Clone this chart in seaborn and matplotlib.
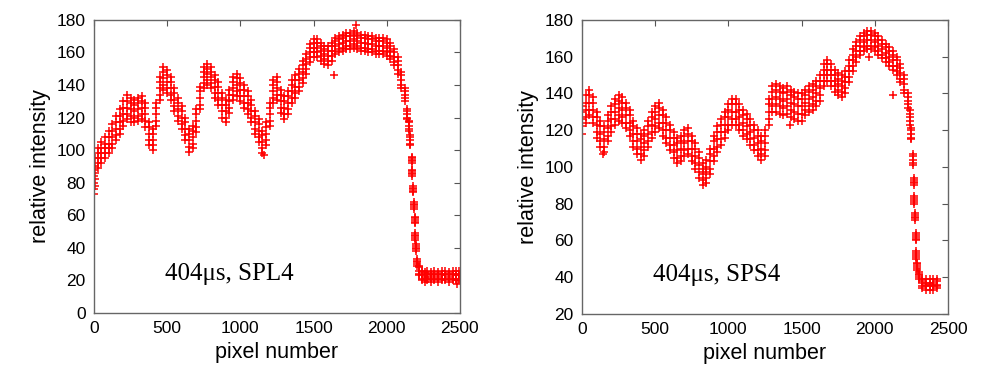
import pandas as pd
import seaborn as sns
import matplotlib.pyplot as plt

# SPL4 profile: pixel position and readings across the scatter band (bottom edge .. top edge)
x1 = [0, 10, 25, 50, 75, 100, 125, 150, 175, 200, 225, 250, 275, 300, 325, 350, 375, 400, 425, 450,
      475, 500, 525, 550, 575, 600, 625, 650, 675, 700, 725, 750, 775, 800, 825, 850, 875, 900, 925, 950,
      975, 1000, 1025, 1050, 1075, 1100, 1125, 1150, 1175, 1200, 1225, 1250, 1275, 1300, 1325, 1350, 1375, 1400, 1425, 1450,
      1475, 1500, 1525, 1550, 1575, 1600, 1625, 1650, 1675, 1700, 1725, 1750, 1775, 1800, 1825, 1850, 1875, 1900, 1925, 1950,
      1975, 2000, 2025, 2050, 2075, 2100, 2125, 2140, 2150, 2160, 2170, 2175, 2180, 2185, 2190, 2195, 2200, 2210, 2220, 2240,
      2260, 2275, 2300, 2325, 2350, 2375, 2400, 2425, 2450, 2475, 2495]
lo1 = [73, 78, 89, 92, 95, 98, 101, 106, 110, 115, 119, 117, 117, 118, 119, 114, 103, 100, 115, 131,
       137, 135, 131, 124, 118, 113, 106, 99, 101, 111, 125, 138, 140, 138, 132, 128, 120, 117, 123, 131,
       133, 130, 126, 122, 117, 110, 105, 98, 103, 115, 129, 131, 123, 119, 122, 129, 132, 136, 141, 147,
       154, 157, 157, 155, 153, 152, 155, 159, 160, 161, 162, 162, 163, 162, 161, 161, 160, 160, 159, 159,
       159, 158, 156, 152, 147, 138, 130, 119, 112, 103, 92, 84, 74, 64, 55, 45, 38, 29, 23, 20,
       19, 20, 19, 20, 19, 20, 20, 19, 20, 20, 20]
qlo1 = [76, 82, 92, 95, 98, 101, 104, 109, 113, 118, 122, 121, 120, 121, 122, 118, 106, 103, 118, 134,
        140, 138, 134, 127, 121, 116, 109, 102, 104, 114, 128, 141, 143, 141, 135, 131, 124, 120, 126, 134,
        136, 133, 129, 125, 120, 113, 108, 101, 106, 118, 132, 134, 126, 122, 125, 132, 135, 139, 144, 150,
        157, 160, 160, 158, 156, 155, 158, 161, 162, 163, 164, 164, 165, 164, 163, 163, 162, 162, 161, 161,
        161, 160, 158, 154, 149, 140, 132, 120, 113, 104, 93, 85, 75, 65, 56, 46, 39, 30, 24, 21,
        21, 21, 21, 21, 21, 21, 21, 21, 21, 21, 21]
mid1 = [80, 86, 95, 98, 101, 104, 108, 113, 117, 122, 126, 125, 124, 125, 126, 122, 110, 106, 122, 138,
        144, 142, 138, 131, 125, 120, 113, 106, 108, 118, 132, 145, 147, 145, 139, 135, 128, 124, 130, 138,
        140, 137, 133, 129, 124, 117, 112, 105, 110, 122, 136, 138, 130, 126, 129, 136, 139, 143, 148, 153,
        160, 163, 163, 161, 159, 158, 161, 164, 165, 166, 167, 167, 168, 167, 166, 166, 165, 165, 164, 164,
        164, 163, 161, 157, 152, 143, 134, 122, 115, 106, 94, 86, 76, 66, 57, 47, 40, 31, 26, 23,
        22, 23, 22, 23, 22, 23, 23, 22, 23, 23, 23]
qhi1 = [84, 90, 98, 101, 104, 108, 112, 117, 121, 126, 130, 129, 128, 129, 130, 126, 114, 110, 126, 142,
        148, 146, 142, 135, 129, 124, 117, 110, 112, 122, 136, 148, 150, 148, 143, 139, 132, 128, 134, 142,
        144, 141, 137, 133, 128, 121, 116, 109, 114, 126, 140, 142, 134, 130, 133, 140, 143, 147, 152, 156,
        163, 166, 166, 164, 162, 161, 164, 167, 168, 169, 170, 170, 171, 170, 169, 169, 168, 168, 167, 167,
        167, 166, 164, 160, 155, 146, 136, 124, 117, 108, 95, 87, 77, 67, 58, 48, 41, 32, 28, 25,
        24, 24, 24, 24, 24, 24, 24, 24, 24, 24, 24]
hi1 = [88, 95, 101, 105, 108, 112, 116, 121, 125, 130, 134, 132, 131, 132, 133, 129, 117, 113, 129, 145,
       151, 149, 145, 138, 132, 127, 120, 113, 115, 125, 139, 151, 153, 151, 146, 142, 135, 131, 137, 145,
       147, 144, 140, 136, 131, 124, 119, 112, 117, 129, 143, 145, 137, 133, 136, 143, 146, 150, 155, 159,
       165, 168, 168, 166, 164, 164, 166, 169, 170, 171, 172, 172, 173, 172, 171, 171, 170, 170, 169, 169,
       169, 168, 166, 162, 157, 148, 138, 125, 118, 109, 96, 88, 78, 68, 59, 49, 42, 33, 29, 26,
       25, 26, 25, 26, 25, 26, 26, 25, 26, 26, 26]
out1_x = [1160, 1641, 1790, 2478]
out1_y = [97, 146, 177, 18]

# SPS4 profile
x2 = [0, 25, 50, 75, 100, 125, 150, 175, 200, 225, 250, 275, 300, 325, 350, 375, 400, 425, 450, 475,
      500, 525, 550, 575, 600, 625, 650, 675, 700, 725, 750, 775, 800, 825, 850, 875, 900, 925, 950, 975,
      1000, 1025, 1050, 1075, 1100, 1125, 1150, 1175, 1200, 1225, 1250, 1275, 1300, 1325, 1350, 1375, 1400, 1425, 1450, 1475,
      1500, 1525, 1550, 1575, 1600, 1625, 1650, 1675, 1700, 1725, 1750, 1775, 1800, 1825, 1850, 1875, 1900, 1925, 1950, 1975,
      2000, 2025, 2050, 2075, 2100, 2125, 2150, 2175, 2200, 2225, 2240, 2250, 2260, 2265, 2270, 2275, 2280, 2285, 2290, 2300,
      2325, 2350, 2375, 2400, 2425]
lo2 = [118, 124, 128, 124, 116, 111, 108, 114, 119, 123, 125, 124, 121, 117, 111, 107, 104, 106, 111, 116,
       119, 121, 117, 113, 109, 105, 102, 103, 106, 107, 103, 99, 94, 90, 91, 96, 103, 108, 112, 116,
       120, 123, 123, 120, 117, 115, 112, 109, 106, 104, 106, 123, 130, 130, 129, 128, 129, 127, 126, 125,
       125, 128, 130, 131, 133, 136, 144, 147, 144, 141, 139, 138, 140, 146, 152, 157, 161, 163, 164, 164,
       163, 161, 159, 157, 155, 153, 150, 146, 140, 132, 123, 115, 101, 90, 80, 71, 60, 50, 44, 39,
       34, 33, 33, 33, 34]
qlo2 = [122, 127, 131, 127, 119, 114, 111, 117, 122, 126, 128, 127, 124, 120, 114, 110, 107, 109, 114, 119,
        122, 124, 120, 116, 112, 108, 105, 106, 109, 110, 106, 102, 97, 93, 94, 99, 106, 111, 115, 119,
        123, 126, 126, 123, 120, 118, 115, 112, 109, 107, 109, 126, 133, 134, 133, 132, 133, 131, 130, 129,
        129, 131, 133, 134, 136, 139, 147, 150, 147, 144, 142, 141, 143, 149, 155, 160, 163, 165, 166, 166,
        165, 163, 161, 159, 157, 155, 152, 148, 142, 134, 125, 116, 102, 91, 81, 72, 61, 51, 45, 40,
        35, 35, 35, 35, 35]
mid2 = [126, 131, 135, 131, 123, 118, 115, 121, 126, 130, 132, 131, 128, 124, 118, 114, 111, 113, 118, 123,
        126, 128, 124, 120, 116, 112, 109, 110, 113, 114, 110, 106, 101, 96, 97, 103, 110, 115, 119, 123,
        127, 130, 130, 127, 124, 122, 119, 116, 113, 110, 113, 130, 137, 138, 137, 136, 137, 135, 134, 133,
        133, 135, 137, 138, 140, 143, 150, 153, 150, 147, 145, 144, 146, 152, 158, 163, 166, 168, 169, 169,
        168, 166, 164, 162, 160, 158, 155, 151, 145, 136, 127, 118, 104, 92, 82, 73, 62, 52, 46, 41,
        37, 36, 36, 36, 36]
qhi2 = [130, 135, 139, 135, 127, 122, 119, 125, 130, 134, 136, 135, 132, 128, 122, 118, 115, 117, 122, 127,
        130, 132, 128, 124, 120, 116, 113, 114, 117, 118, 114, 110, 105, 99, 100, 107, 114, 119, 123, 127,
        131, 134, 134, 131, 128, 126, 123, 120, 117, 114, 117, 134, 141, 142, 141, 140, 141, 139, 138, 137,
        137, 139, 141, 142, 144, 147, 153, 156, 153, 150, 148, 147, 149, 155, 161, 166, 169, 171, 172, 172,
        171, 169, 167, 165, 163, 161, 158, 154, 148, 138, 129, 120, 106, 93, 83, 74, 63, 53, 47, 42,
        38, 37, 37, 37, 38]
hi2 = [133, 139, 142, 138, 130, 125, 122, 128, 133, 137, 139, 138, 135, 131, 125, 121, 118, 120, 125, 130,
       133, 135, 131, 127, 123, 119, 116, 117, 120, 121, 117, 113, 108, 102, 104, 110, 117, 122, 126, 130,
       134, 137, 137, 134, 131, 129, 126, 123, 120, 117, 120, 137, 144, 145, 144, 143, 144, 142, 141, 140,
       140, 142, 144, 145, 147, 150, 156, 158, 156, 153, 151, 150, 152, 158, 164, 168, 171, 173, 174, 174,
       173, 171, 169, 167, 165, 163, 160, 156, 150, 140, 131, 121, 107, 94, 84, 75, 64, 54, 48, 43,
       39, 39, 39, 39, 39]
out2_x = [146, 1421, 1958, 2122]
out2_y = [107, 123, 160, 139]

panels = [
    dict(x=x1, bands=[lo1, qlo1, mid1, qhi1, hi1], ox=out1_x, oy=out1_y, ylim=(0, 180),
         yticks=range(0, 181, 20), label='404μs, SPL4', ty=20),
    dict(x=x2, bands=[lo2, qlo2, mid2, qhi2, hi2], ox=out2_x, oy=out2_y, ylim=(20, 180),
         yticks=range(20, 181, 20), label='404μs, SPS4', ty=38),
]

sns.set_style('white')
plt.rcParams['font.family'] = ['Liberation Sans', 'DejaVu Sans']
plt.rcParams['text.color'] = 'black'
plt.rcParams['axes.labelcolor'] = 'black'
plt.rcParams['xtick.color'] = 'black'
plt.rcParams['ytick.color'] = 'black'

fig = plt.figure(figsize=(9.89, 3.82), dpi=100)
rects = [[0.095, 0.181, 0.370, 0.767], [0.5885, 0.178, 0.370, 0.770]]

for rect, p in zip(rects, panels):
    ax = fig.add_axes(rect)
    frames = [pd.DataFrame({'pixel': p['x'], 'intensity': b}) for b in p['bands']]
    frames.append(pd.DataFrame({'pixel': p['ox'], 'intensity': p['oy']}))
    df = pd.concat(frames, ignore_index=True)
    sns.scatterplot(data=df, x='pixel', y='intensity', marker='+', color='#ff0000',
                    edgecolor='#ff0000', s=32, linewidth=1.1, ax=ax)
    ax.set_xlim(0, 2500)
    ax.set_ylim(*p['ylim'])
    ax.set_xticks(range(0, 2501, 500))
    ax.set_yticks(list(p['yticks']))
    ax.tick_params(direction='in', length=4, width=0.8, top=True, right=True,
                   labelsize=12.5, pad=6)
    ax.tick_params(color='#555555')
    for s in ax.spines.values():
        s.set_color('#666666')
        s.set_linewidth(1.0)
    ax.set_xlabel('pixel number', fontsize=15.5, labelpad=4)
    ax.set_ylabel('relative intensity', fontsize=15.5, labelpad=4)
    ax.text(485, p['ty'], p['label'], fontsize=18, family=['Liberation Serif', 'DejaVu Serif'])

fig.savefig('out.png', dpi=100)
